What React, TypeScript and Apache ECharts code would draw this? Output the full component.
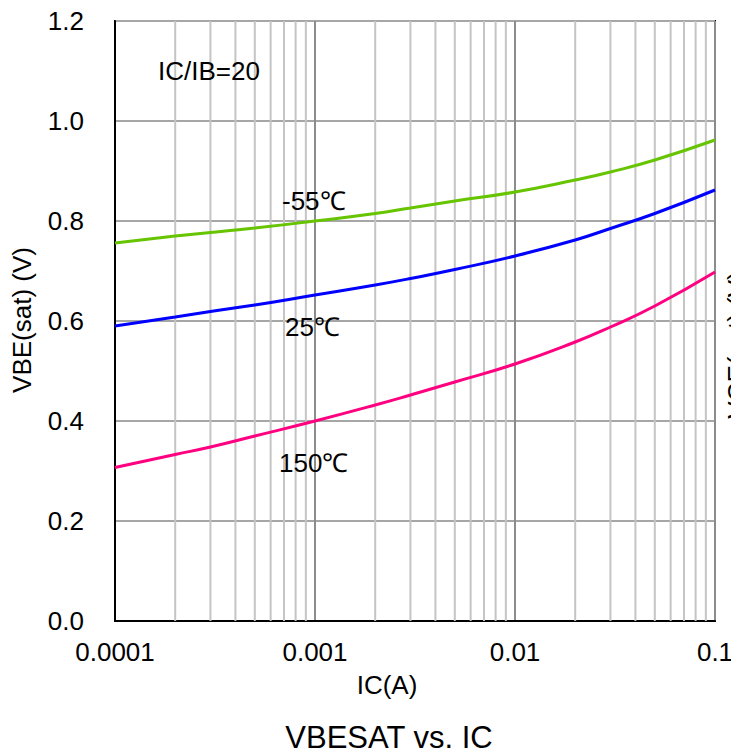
import React, { useEffect, useRef } from "react";
import * as echarts from "echarts";

const icValues = [0.0001, 0.0002, 0.0003, 0.0005, 0.001, 0.002, 0.003, 0.005, 0.01, 0.02, 0.03, 0.05, 0.1];
const vbeMinus55 = [0.756, 0.77, 0.777, 0.786, 0.8, 0.815, 0.826, 0.84, 0.858, 0.882, 0.898, 0.922, 0.962];
const vbe25 = [0.59, 0.608, 0.619, 0.632, 0.652, 0.672, 0.685, 0.703, 0.73, 0.762, 0.785, 0.815, 0.862];
const vbe150 = [0.307, 0.333, 0.348, 0.37, 0.4, 0.432, 0.452, 0.478, 0.514, 0.558, 0.588, 0.63, 0.698];
const minorGridX = [
  0.0002, 0.0003, 0.0004, 0.0005, 0.0006, 0.0007, 0.0008, 0.0009,
  0.002, 0.003, 0.004, 0.005, 0.006, 0.007, 0.008, 0.009,
  0.02, 0.03, 0.04, 0.05, 0.06, 0.07, 0.08, 0.09,
];
const yRange = [0, 1.2];
const seriesNames = ["-55℃", "25℃", "150℃"];

const FONT = "'Liberation Sans', Arial, sans-serif";
const FS = 26;

export default function App() {
  const ref = useRef<HTMLDivElement>(null);
  useEffect(() => {
    if (!ref.current) return;
    const chart = echarts.init(ref.current, null, { renderer: "svg" });
    const mk = (vals: number[]) => icValues.map((x, i) => [x, vals[i]]);
    const minorSeries = minorGridX.map((x) => ({
      type: "line",
      data: yRange.map((y) => [x, y]),
      showSymbol: false,
      silent: true,
      z: 1,
      lineStyle: { color: "#c4c4c4", width: 2 },
      tooltip: { show: false },
    }));
    chart.setOption({
      animation: false,
      backgroundColor: "#ffffff",
      grid: {
        left: 115, top: 21, width: 600, height: 600,
        outerBoundsMode: "none", containLabel: false,
        show: true, borderColor: "#000", borderWidth: 2, backgroundColor: "transparent",
      },
      xAxis: {
        type: "log",
        logBase: 10,
        min: 0.0001,
        max: 0.1,
        axisLine: { show: true, lineStyle: { color: "#000", width: 2 } },
        axisTick: { show: false },
        axisLabel: {
          color: "#000",
          fontSize: FS,
          fontFamily: FONT,
          margin: 18,
          formatter: (v: number) => parseFloat(v.toPrecision(1)).toString(),
        },
        splitLine: { show: true, lineStyle: { color: "#8c8c8c", width: 2 } },
      },
      yAxis: {
        type: "value",
        min: 0,
        max: 1.2,
        interval: 0.2,
        axisLine: { show: true, lineStyle: { color: "#000", width: 2 } },
        axisTick: { show: false },
        axisLabel: { color: "#000", fontSize: FS, fontFamily: FONT, margin: 31, formatter: (v: number) => v.toFixed(1) },
        splitLine: { show: true, lineStyle: { color: "#a6a6a6", width: 2 } },
      },
      series: [
        ...minorSeries,
        { name: seriesNames[0], type: "line", data: mk(vbeMinus55), smooth: true, showSymbol: false, lineStyle: { color: "#66c400", width: 3 }, z: 3 },
        { name: seriesNames[1], type: "line", data: mk(vbe25), smooth: true, showSymbol: false, lineStyle: { color: "#0000ff", width: 3 }, z: 3 },
        { name: seriesNames[2], type: "line", data: mk(vbe150), smooth: true, showSymbol: false, lineStyle: { color: "#ff0080", width: 3 }, z: 3 },
      ],
      graphic: [
        { type: "text", x: 158, y: 71, z: 10, style: { text: "IC/IB=20", fontSize: FS, fontFamily: FONT, fill: "#000", align: "left", verticalAlign: "middle" } },
        { type: "text", x: 282, y: 201, z: 10, style: { text: seriesNames[0], fontSize: FS, fontFamily: FONT, fill: "#000", align: "left", verticalAlign: "middle" } },
        { type: "text", x: 285, y: 327, z: 10, style: { text: seriesNames[1], fontSize: FS, fontFamily: FONT, fill: "#000", align: "left", verticalAlign: "middle" } },
        { type: "text", x: 279, y: 463, z: 10, style: { text: seriesNames[2], fontSize: FS, fontFamily: FONT, fill: "#000", align: "left", verticalAlign: "middle" } },
        { type: "text", x: 22, y: 320, rotation: Math.PI / 2, style: { text: "VBE(sat) (V)", fontSize: FS, fontFamily: FONT, fill: "#000", align: "center", verticalAlign: "middle" } },
        { type: "text", x: 387, y: 685, style: { text: "IC(A)", fontSize: FS, fontFamily: FONT, fill: "#000", align: "center", verticalAlign: "middle" } },
        { type: "text", x: 389, y: 737, style: { text: "VBESAT vs. IC", fontSize: 31, fontFamily: FONT, fill: "#000", align: "center", verticalAlign: "middle" } },
        { type: "text", x: 737, y: 345, rotation: Math.PI / 2, style: { text: "VCE(sat) (V)", fontSize: FS, fontFamily: FONT, fill: "#000", align: "center", verticalAlign: "middle" } },
      ],
    });
    return () => chart.dispose();
  }, []);
  return <div ref={ref} style={{ position: "fixed", left: 0, top: 0, width: 731, height: 754 }} />;
}
